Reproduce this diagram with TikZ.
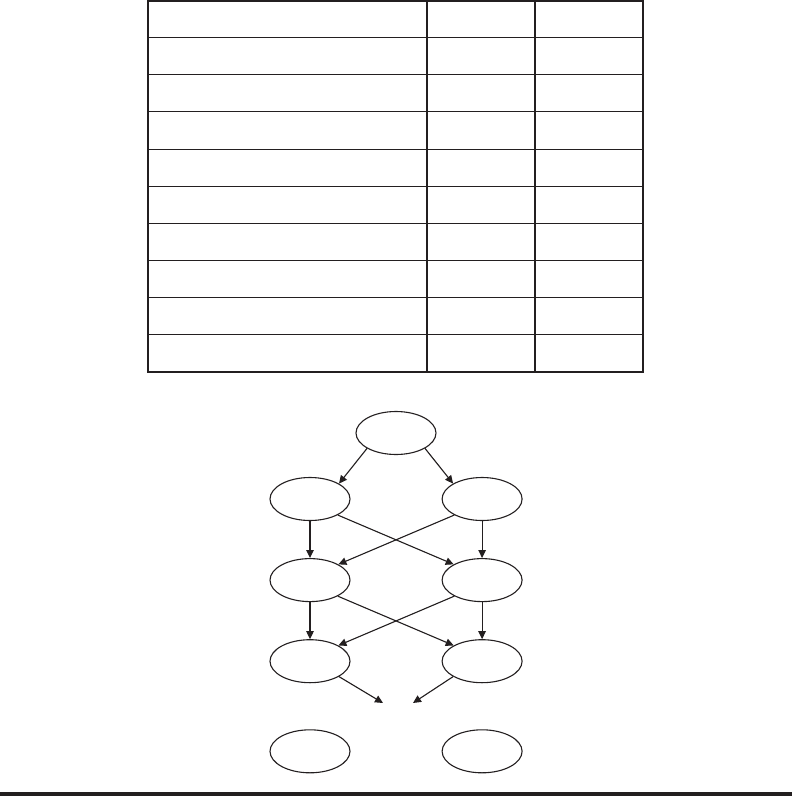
\documentclass[tikz,border=0pt]{standalone}
\usetikzlibrary{positioning,arrows.meta,shapes.geometric}
\definecolor{ink}{HTML}{231F20}

\begin{document}
\begin{tikzpicture}[
    x=1pt, y=-1pt,
    grid/.style={line width=1.3pt, draw=ink},
    state/.style={draw=ink, ellipse, line width=1.1pt,
                  minimum width=80pt, minimum height=43pt, inner sep=0pt},
    link/.style={line width=1.1pt, draw=ink, fill=ink,
                 -{Triangle[length=8pt,width=7.5pt]}}
  ]
  \useasboundingbox (0,0) rectangle (792,796);

  % table
  \draw[grid] (148,1) rectangle (643,372);
  \foreach \y in {37.3,74.3,111.3,149.3,186.3,223.3,260.3,297.3,334.3}
    \draw[grid] (148,\y) -- (643,\y);
  \draw[grid] (427,1) -- (427,372);
  \draw[grid] (535,1) -- (535,372);

  % graph
  \node[state] (top) at (396,433) {};
  \node[state] (l1) at (310,499) {};
  \node[state, right=91pt of l1] (r1) {};
  \node[state, below=37pt of l1] (l2) {};
  \node[state, below=37pt of r1] (r2) {};
  \node[state, below=37pt of l2] (l3) {};
  \node[state, below=37pt of r2] (r3) {};
  \node[state, below=46pt of l3] (l4) {};
  \node[state, below=46pt of r3] (r4) {};
  \coordinate (sinkL) at (383,703);
  \coordinate (sinkR) at (413,703);

  \draw[link] (top.-152) -- (l1.28);
  \draw[link] (top.-28) -- (r1.152);
  \draw[link] (l1) -- (l2);
  \draw[link] (r1) -- (r2);
  \draw[link] (l1.-30) -- (r2.151);
  \draw[link] (r1.-150) -- (l2.29);
  \draw[link] (l2) -- (l3);
  \draw[link] (r2) -- (r3);
  \draw[link] (l2.-30) -- (r3.151);
  \draw[link] (r2.-150) -- (l3.29);
  \draw[link] (l3.-28) -- (sinkL);
  \draw[link] (r3.-152) -- (sinkR);

  % rule at the foot
  \fill[ink] (0,791.7) rectangle (792,796);
\end{tikzpicture}
\end{document}
